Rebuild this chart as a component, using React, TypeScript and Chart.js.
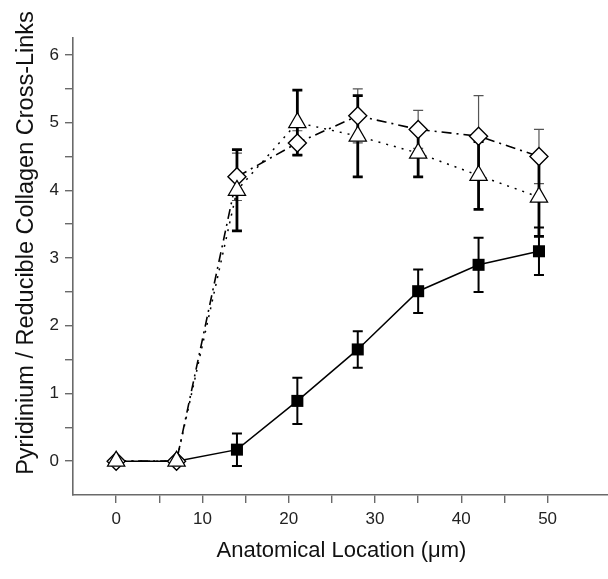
import React, { useEffect, useRef } from "react";
import { Chart, registerables } from "chart.js";

Chart.register(...registerables);

const xValues = [0, 7, 14, 21, 28, 35, 42, 49];
const squareValues = [0, 0, 0.17, 0.89, 1.65, 2.51, 2.9, 3.1];
const squareErrors = [0, 0, 0.24, 0.34, 0.27, 0.32, 0.4, 0.35];
const diamondValues = [0, 0, 4.2, 4.7, 5.1, 4.9, 4.8, 4.5];
const diamondErrors = [0, 0, 0.35, 0.18, 0.4, 0.28, 0.6, 0.4];
const triangleValues = [0, 0, 4.0, 5.0, 4.8, 4.55, 4.22, 3.9];
const triangleErrors = [0, 0, 0.6, 0.48, 0.6, 0.35, 0.5, 0.58];

const xTickValues = [0, 5, 10, 15, 20, 25, 30, 35, 40, 45, 50];
const yTickValues = [0, 0.5, 1, 1.5, 2, 2.5, 3, 3.5, 4, 4.5, 5, 5.5, 6];
const xTitle = "Anatomical Location (\u03bcm)";
const yTitle = "Pyridinium / Reducible Collagen Cross-Links";

const FONT = '"Liberation Sans", Arial, Helvetica, sans-serif';

const errorStyles: Record<number, { color: string; width: number; cap: number }> = {
  0: { color: "#000", width: 2, cap: 5 },
  1: { color: "#555", width: 1.2, cap: 5 },
  2: { color: "#000", width: 2.8, cap: 5 },
};
const errorArrays = [squareErrors, diamondErrors, triangleErrors];

const errorBarPlugin = {
  id: "errorBars",
  beforeDatasetsDraw(chart: any) {
    const ctx = chart.ctx;
    const ys = chart.scales.y;
    const xs = chart.scales.x;
    ctx.save();
    chart.data.datasets.forEach((ds: any, i: number) => {
      const errs = errorArrays[i];
      const st = errorStyles[i];
      ds.data.forEach((p: any, j: number) => {
        const e = errs[j];
        if (!e) return;
        const px = xs.getPixelForValue(p.x);
        const top = ys.getPixelForValue(p.y + e);
        const bot = ys.getPixelForValue(p.y - e);
        ctx.strokeStyle = st.color;
        ctx.lineWidth = st.width;
        ctx.beginPath();
        ctx.moveTo(px, top);
        ctx.lineTo(px, bot);
        ctx.moveTo(px - st.cap, top);
        ctx.lineTo(px + st.cap, top);
        ctx.moveTo(px - st.cap, bot);
        ctx.lineTo(px + st.cap, bot);
        ctx.stroke();
      });
    });
    ctx.restore();
  },
};

const titlePlugin = {
  id: "axisTitles",
  afterDraw(chart: any) {
    const ctx = chart.ctx;
    const area = chart.chartArea;
    ctx.save();
    ctx.fillStyle = "#111";
    ctx.textAlign = "center";
    ctx.textBaseline = "alphabetic";
    ctx.font = `22px ${FONT}`;
    ctx.fillText(xTitle, (area.left + area.right) / 2 + 1, 557);
    ctx.translate(33, 243);
    ctx.rotate(-Math.PI / 2);
    ctx.font = `23.5px ${FONT}`;
    ctx.fillText(yTitle, 0, 0);
    ctx.restore();
  },
};

function toPoints(values: number[]) {
  return xValues.map((x, i) => ({ x, y: values[i] }));
}

export default function App() {
  const canvasRef = useRef<HTMLCanvasElement | null>(null);

  useEffect(() => {
    if (!canvasRef.current) return;
    const axisColor = "#6a6a6a";
    const chart = new Chart(canvasRef.current, {
      type: "line",
      data: {
        datasets: [
          {
            label: "squares",
            data: toPoints(squareValues),
            borderColor: "#000",
            borderWidth: 1.5,
            backgroundColor: "#000",
            pointStyle: "rect",
            pointRadius: squareValues.map((_, i) => (i < 2 ? 0 : 8.5)),
            pointBorderWidth: 0,
            pointBackgroundColor: "#000",
            order: 3,
          },
          {
            label: "diamonds",
            data: toPoints(diamondValues),
            borderColor: "#000",
            borderWidth: 1.6,
            borderDash: [10, 5, 2, 5],
            pointStyle: "rectRot",
            pointRadius: 9,
            pointBorderWidth: 1.4,
            pointBorderColor: "#000",
            pointBackgroundColor: "#fff",
            order: 2,
          },
          {
            label: "triangles",
            data: toPoints(triangleValues),
            borderColor: "#000",
            borderWidth: 1.5,
            borderDash: [2, 6],
            pointStyle: "triangle",
            pointRadius: 10,
            pointBorderWidth: 1.2,
            pointBorderColor: "#000",
            pointBackgroundColor: "#fff",
            order: 1,
          },
        ],
      },
      options: {
        animation: false,
        responsive: false,
        maintainAspectRatio: false,
        layout: { autoPadding: false, padding: { top: 38, left: 0, right: 0, bottom: 0 } },
        plugins: { legend: { display: false }, tooltip: { enabled: false } },
        scales: {
          x: {
            type: "linear",
            min: -5,
            max: 57,
            afterBuildTicks: (scale: any) => {
              scale.ticks = xTickValues.map((v) => ({ value: v }));
            },
            afterFit: (scale: any) => {
              scale.height = 84;
              scale.paddingLeft = 0;
              scale.paddingRight = 0;
            },
            ticks: {
              autoSkip: false,
              maxRotation: 0,
              padding: 6,
              color: "#222",
              font: { family: FONT, size: 17 },
              callback: (v: any) => (Number(v) % 10 === 0 ? String(v) : ""),
            },
            grid: {
              drawOnChartArea: false,
              drawTicks: true,
              tickLength: 8,
              color: axisColor,
              lineWidth: 1.4,
            },
            border: { display: true, color: axisColor, width: 1.6 },
          },
          y: {
            type: "linear",
            min: -0.5,
            max: 6.25,
            afterBuildTicks: (scale: any) => {
              scale.ticks = yTickValues.map((v) => ({ value: v }));
            },
            afterFit: (scale: any) => {
              scale.width = 73;
              scale.paddingTop = 0;
              scale.paddingBottom = 0;
            },
            ticks: {
              autoSkip: false,
              padding: 6,
              color: "#222",
              font: { family: FONT, size: 17 },
              callback: (v: any) => (Number.isInteger(Number(v)) ? String(v) : ""),
            },
            grid: {
              drawOnChartArea: false,
              drawTicks: true,
              tickLength: 8,
              color: axisColor,
              lineWidth: 1.4,
            },
            border: { display: true, color: axisColor, width: 1.6 },
          },
        },
      } as any,
      plugins: [errorBarPlugin, titlePlugin],
    });
    return () => chart.destroy();
  }, []);

  return (
    <div style={{ position: "fixed", left: 0, top: 0, width: 608, height: 579, background: "#fff" }}>
      <canvas ref={canvasRef} width={608} height={579} style={{ width: 608, height: 579 }} />
    </div>
  );
}
